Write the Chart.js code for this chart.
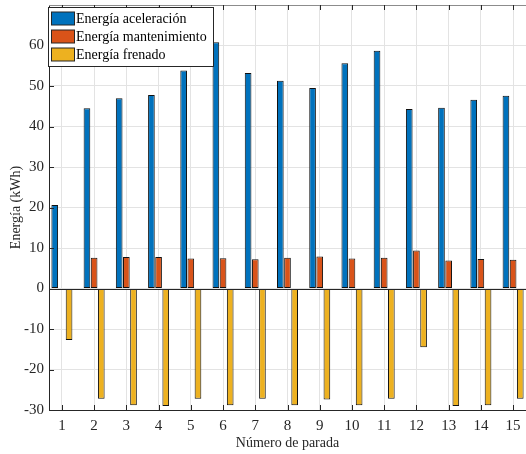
<!DOCTYPE html>
<html>
<head>
<meta charset="utf-8">
<script src="https://cdn.jsdelivr.net/npm/chart.js@4.4.1/dist/chart.umd.min.js"></script>
<style>
html,body{margin:0;padding:0;background:#fff;}
#wrap{width:526px;height:454px;position:relative;}
</style>
</head>
<body>
<div id="wrap"><canvas id="c" width="526" height="454"></canvas></div>
<script>
const stops = [1,2,3,4,5,6,7,8,9,10,11,12,13,14,15];
const seriesNames = ['Energía aceleración','Energía mantenimiento','Energía frenado'];
const aceleracion = [20.6,44.5,47.0,47.8,53.8,60.8,53.2,51.3,49.5,55.6,58.7,44.3,44.6,46.6,47.6];
const mantenimiento = [0,7.6,7.75,7.8,7.4,7.5,7.2,7.6,7.9,7.4,7.6,9.4,6.9,7.3,7.1];
const frenado = [-12.7,-27.2,-28.8,-29.0,-27.2,-28.8,-27.2,-28.8,-27.4,-28.8,-27.2,-14.5,-29.0,-28.8,-27.2];
const yTicks = [-30,-20,-10,0,10,20,30,40,50,60];
const colors = ['#0072BD','#D95319','#EDB120'];
const FONT = 'Liberation Serif';
const TXT = '#262626';

function pts(vals){ return stops.map((s,i)=>({x:s,y:vals[i]})); }

const innerTicks = {
  id:'innerTicks',
  afterDatasetsDraw(chart){
    const ctx = chart.ctx, a = chart.chartArea;
    const xs = chart.scales.x, ys = chart.scales.y;
    ctx.save();
    const y0 = ys.getPixelForValue(0);
    ctx.strokeStyle = '#262626'; ctx.lineWidth = 1;
    ctx.beginPath(); ctx.moveTo(a.left, Math.round(y0)+0.5); ctx.lineTo(a.right, Math.round(y0)+0.5); ctx.stroke();
    ctx.strokeStyle = '#8c8c8c';
    ctx.beginPath(); ctx.moveTo(a.left, Math.round(a.top)+0.5); ctx.lineTo(a.right, Math.round(a.top)+0.5); ctx.stroke();
    ctx.strokeStyle = '#262626';
    ctx.beginPath();
    stops.forEach(s=>{
      const x = Math.round(xs.getPixelForValue(s))+0.5;
      ctx.moveTo(x, a.bottom); ctx.lineTo(x, a.bottom-5);
      ctx.moveTo(x, a.top); ctx.lineTo(x, a.top+5);
    });
    yTicks.forEach(v=>{
      const y = Math.round(ys.getPixelForValue(v))+0.5;
      ctx.moveTo(a.left, y); ctx.lineTo(a.left+5, y);
    });
    ctx.stroke();
    ctx.restore();
  },
  afterDraw(chart){
    const ctx = chart.ctx;
    ctx.save();
    const bx = 48.5, by = 7.5, bw = 165, bh = 59;
    ctx.fillStyle = '#fff';
    ctx.fillRect(bx, by, bw, bh);
    ctx.strokeStyle = '#262626'; ctx.lineWidth = 1;
    ctx.strokeRect(bx, by, bw, bh);
    ctx.font = '14px "' + FONT + '"';
    ctx.textBaseline = 'middle';
    chart.data.datasets.forEach((ds,i)=>{
      const cy = 18.5 + i*18;
      ctx.fillStyle = ds.backgroundColor;
      ctx.fillRect(51.5, cy-6.5, 23, 13);
      ctx.strokeStyle = '#262626';
      ctx.strokeRect(51.5, cy-6.5, 23, 13);
      ctx.fillStyle = '#000';
      ctx.fillText(ds.label, 76, cy+0.5);
    });
    ctx.restore();
  }
};

new Chart(document.getElementById('c'), {
  type:'bar',
  data:{
    datasets:[
      {label:seriesNames[0], data:pts(aceleracion), backgroundColor:colors[0], borderColor:'#111', borderWidth:1, borderSkipped:false},
      {label:seriesNames[1], data:pts(mantenimiento), backgroundColor:colors[1], borderColor:'#111', borderWidth:1, borderSkipped:false},
      {label:seriesNames[2], data:pts(frenado), backgroundColor:colors[2], borderColor:'#111', borderWidth:1, borderSkipped:false}
    ]
  },
  plugins:[innerTicks],
  options:{
    responsive:false,
    animation:false,
    layout:{padding:{top:5,right:0,bottom:0,left:0}},
    datasets:{bar:{categoryPercentage:0.667, barPercentage:0.93, grouped:true}},
    plugins:{legend:{display:false}, tooltip:{enabled:false}},
    scales:{
      x:{
        type:'linear', min:0.6, max:15.4, offset:false,
        afterBuildTicks(s){ s.ticks = stops.map(v=>({value:v})); },
        afterFit(s){ s.height = 44; s.paddingLeft = 0; s.paddingRight = 0; },
        ticks:{font:{family:FONT,size:15}, color:TXT, padding:7, maxRotation:0, autoSkip:false},
        grid:{color:'#e3e3e3', drawTicks:false, offset:false},
        border:{display:true, color:'#262626'},
        title:{display:true, text:'Número de parada', font:{family:FONT,size:14}, color:TXT, padding:{top:0,bottom:2}}
      },
      y:{
        min:-30, max:70,
        afterBuildTicks(s){ s.ticks = yTicks.map(v=>({value:v})).concat([{value:70}]); },
        afterFit(s){ s.width = 49; s.paddingTop = 0; s.paddingBottom = 0; },
        ticks:{font:{family:FONT,size:15}, color:TXT, padding:5, callback:(v)=> v===70 ? '' : String(v)},
        grid:{color:'#e3e3e3', drawTicks:false},
        border:{display:true, color:'#262626'},
        title:{display:true, text:'Energía (kWh)', font:{family:FONT,size:14}, color:TXT, padding:{top:8,bottom:0}}
      }
    }
  }
});
</script>
</body>
</html>
